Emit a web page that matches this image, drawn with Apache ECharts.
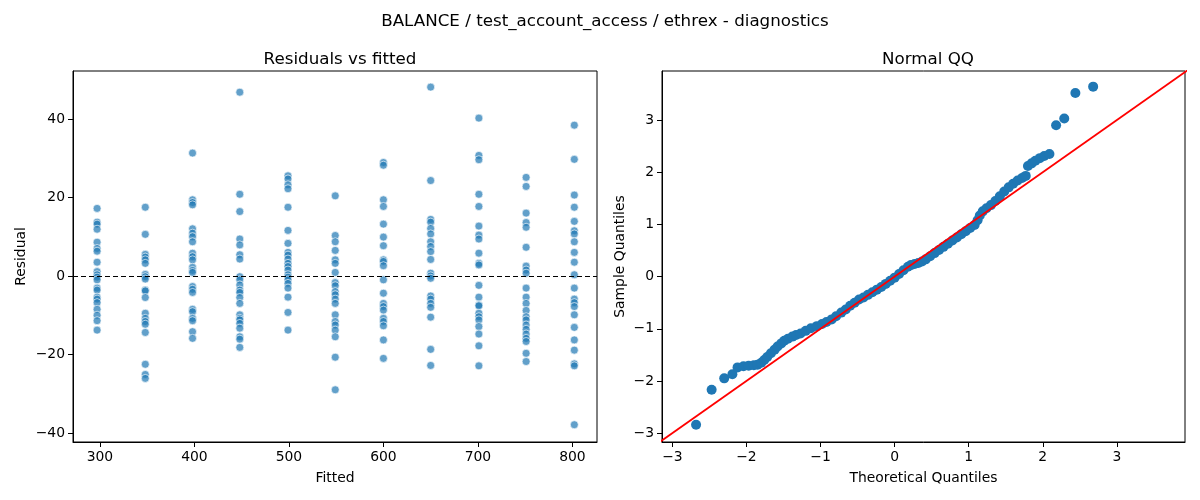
<!DOCTYPE html>
<html>
<head>
<meta charset="utf-8">
<script src="https://cdn.jsdelivr.net/npm/echarts@6/dist/echarts.min.js"></script>
<style>
  html, body { margin: 0; padding: 0; background: #fff; }
  #chart { width: 1200px; height: 500px; }
</style>
</head>
<body>
<div id="chart"></div>
<script>
// fitted levels (one column of points per level)
const fittedLevels = [297, 348, 398, 448, 499, 549, 600, 650, 701, 751, 802]

// residuals read per fitted level
const residuals = [
  [17.2, 13.7, 13.2, 11.9, 8.6, 7.0, 6.3, 3.5, 1.1, 0.3, -0.3, -1.0, -3.1, -3.6, -5.4, -5.9, -6.8, -8.5, -10.0, -11.4, -13.8],
  [17.5, 10.6, 5.5, 4.8, 4.1, 3.2, 0.4, -0.2, -0.8, -3.6, -3.8, -5.5, -9.5, -10.8, -11.6, -12.3, -14.4, -22.5, -25.1, -26.1],
  [31.3, 19.4, 18.7, 18.1, 12.0, 10.9, 10.0, 8.7, 5.8, 4.9, 4.1, 2.2, 1.4, 0.9, -2.7, -3.4, -4.2, -8.5, -9.1, -10.8, -11.4, -14.2, -15.9],
  [46.8, 20.8, 16.4, 9.4, 7.9, 5.4, 4.3, -0.2, -1.0, -2.3, -3.6, -4.2, -5.5, -7.0, -9.9, -10.8, -11.2, -12.1, -13.3, -15.5, -16.1, -18.2],
  [25.5, 24.7, 23.2, 22.2, 17.5, 11.6, 8.3, 6.0, 5.3, 4.3, 3.2, 2.4, 1.5, 0.3, -0.3, -1.0, -1.9, -3.1, -5.4, -9.3, -13.8],
  [20.4, 10.3, 8.7, 6.5, 4.1, 3.2, 0.9, -1.7, -2.5, -4.0, -4.8, -5.9, -7.0, -9.9, -11.6, -12.5, -13.8, -15.5, -20.7, -29.0],
  [28.9, 28.2, 19.4, 17.7, 13.2, 9.9, 7.7, 4.1, 3.7, 2.6, -1.0, -4.4, -7.0, -7.8, -8.7, -10.8, -11.6, -12.7, -16.3, -21.0],
  [48.1, 24.3, 14.4, 13.7, 12.1, 10.7, 8.7, 7.5, 6.2, 4.2, 0.7, 0.0, -0.6, -5.1, -5.9, -7.0, -8.0, -10.5, -18.7, -22.8],
  [40.2, 30.7, 29.6, 20.8, 17.7, 12.7, 10.4, 9.4, 5.8, 3.2, 2.8, -2.4, -5.4, -7.4, -7.6, -9.5, -10.4, -11.2, -12.9, -14.8, -17.8, -22.9],
  [25.1, 22.8, 16.0, 13.6, 12.4, 7.3, 2.5, 1.5, 0.7, -3.1, -5.4, -7.0, -8.8, -10.4, -11.2, -12.5, -13.6, -14.8, -15.9, -16.7, -19.7, -21.8],
  [38.4, 29.7, 20.6, 17.5, 13.9, 11.5, 10.7, 8.7, 6.0, 3.5, 0.3, -3.1, -5.9, -6.8, -7.8, -9.9, -13.1, -16.3, -18.9, -22.4, -22.9, -37.9]
]

// normal QQ: theoretical quantiles and sample quantiles
const theoretical = [
  -2.68, -2.47, -2.30, -2.19, -2.12, -2.04, -1.97, -1.90, -1.85, -1.80, -1.76, -1.72, -1.67, -1.62, -1.58,
  -1.53, -1.49, -1.44, -1.38, -1.33, -1.27, -1.20, -1.13, -1.05, -0.98, -0.92, -0.85, -0.79, -0.72, -0.66,
  -0.60, -0.54, -0.48, -0.42, -0.36, -0.30, -0.24, -0.18, -0.12, -0.06, 0.00, 0.06, 0.12, 0.18, 0.22,
  0.27, 0.32, 0.37, 0.42, 0.48, 0.54, 0.60, 0.66, 0.72, 0.78, 0.84, 0.90, 0.96, 1.02, 1.08,
  1.12, 1.15, 1.19, 1.24, 1.30, 1.36, 1.42, 1.48, 1.54, 1.60, 1.66, 1.72, 1.77, 1.80, 1.85,
  1.90, 1.96, 2.02, 2.09, 2.18, 2.29, 2.44, 2.68
]
const sample = [
  -2.84, -2.17, -1.95, -1.87, -1.74, -1.72, -1.71, -1.70, -1.69, -1.65, -1.60, -1.54, -1.47, -1.40, -1.34,
  -1.28, -1.23, -1.19, -1.15, -1.12, -1.09, -1.04, -0.99, -0.95, -0.91, -0.87, -0.82, -0.76, -0.69, -0.63,
  -0.56, -0.50, -0.44, -0.40, -0.35, -0.30, -0.25, -0.20, -0.14, -0.08, -0.02, 0.05, 0.12, 0.19, 0.22,
  0.24, 0.26, 0.29, 0.33, 0.39, 0.45, 0.51, 0.57, 0.63, 0.69, 0.75, 0.81, 0.87, 0.93, 0.99,
  1.08, 1.17, 1.25, 1.31, 1.37, 1.45, 1.54, 1.63, 1.71, 1.78, 1.84, 1.89, 1.93, 2.12, 2.17,
  2.22, 2.27, 2.31, 2.35, 2.90, 3.03, 3.52, 3.64
]

// 45 degree reference line end points
const refLine = [[-3.3, -3.3], [4.0, 4.0]]

const leftXTicks = [300, 400, 500, 600, 700, 800]
const leftYTicks = [-40, -20, 0, 20, 40]
const qqTicks = [-3, -2, -1, 0, 1, 2, 3]

const FONT = 'DejaVu Sans'
const minus = v => String(v).replace('-', '\u2212')

const scatterData = []
fittedLevels.forEach((f, i) => {
  residuals[i].forEach(r => scatterData.push([f, r]))
})
const qqData = theoretical.map((t, i) => [t, sample[i]])

function valueAxis (gridIndex, min, max, ticks, name, nameGap) {
  return {
    type: 'value',
    gridIndex: gridIndex,
    min: min,
    max: max,
    name: name,
    nameLocation: 'middle',
    nameGap: nameGap,
    nameTextStyle: { fontFamily: FONT, fontSize: 13.9, color: '#000' },
    splitLine: { show: false },
    axisLine: { show: true, onZero: false, lineStyle: { color: '#000', width: 1 } },
    axisTick: { show: true, inside: false, length: 5, customValues: ticks, lineStyle: { color: '#000' } },
    axisLabel: {
      customValues: ticks,
      margin: 8,
      fontFamily: FONT,
      fontSize: 13.9,
      color: '#000',
      formatter: minus
    }
  }
}

const titleStyle = { fontFamily: FONT, fontSize: 16.7, fontWeight: 'normal', color: '#000' }

const chart = echarts.init(document.getElementById('chart'), null, { renderer: 'canvas' })
const option = {
  backgroundColor: '#fff',
  animation: false,
  title: [
    { text: 'BALANCE / test_account_access / ethrex - diagnostics', left: 600, top: 8, textAlign: 'center', textStyle: titleStyle },
    { text: 'Residuals vs fitted', left: 335, top: 46, textAlign: 'center', textStyle: titleStyle },
    { text: 'Normal QQ', left: 923, top: 46, textAlign: 'center', textStyle: titleStyle }
  ],
  grid: [
    { left: 73, top: 71, width: 524, height: 371, show: true, borderColor: '#000', borderWidth: 1, backgroundColor: 'transparent' },
    { left: 662, top: 71, width: 523, height: 371, show: true, borderColor: '#000', borderWidth: 1, backgroundColor: 'transparent' }
  ],
  xAxis: [
    valueAxis(0, 271.5, 826, leftXTicks, 'Fitted', 29),
    valueAxis(1, -3.14, 3.92, qqTicks, 'Theoretical Quantiles', 29)
  ],
  yAxis: [
    valueAxis(0, -42.3, 52.2, leftYTicks, 'Residual', 45),
    valueAxis(1, -3.17, 3.94, qqTicks, 'Sample Quantiles', 35)
  ],
  series: [
    {
      type: 'scatter',
      xAxisIndex: 0,
      yAxisIndex: 0,
      data: scatterData,
      symbolSize: 8,
      itemStyle: { color: 'rgba(31,119,180,0.7)', borderColor: 'rgba(255,255,255,0.8)', borderWidth: 0.8, opacity: 1 },
      markLine: {
        silent: true,
        symbol: 'none',
        label: { show: false },
        lineStyle: { color: '#000', type: [5, 3], width: 1.2 },
        data: [{ yAxis: 0 }]
      }
    },
    {
      type: 'scatter',
      xAxisIndex: 1,
      yAxisIndex: 1,
      data: qqData,
      symbolSize: 10,
      itemStyle: { color: '#1f77b4', opacity: 1 }
    },
    {
      type: 'line',
      xAxisIndex: 1,
      yAxisIndex: 1,
      data: refLine,
      symbol: 'none',
      clip: true,
      lineStyle: { color: '#ff0000', width: 1.8 },
      z: 5
    }
  ]
}
chart.setOption(option)
</script>
</body>
</html>
